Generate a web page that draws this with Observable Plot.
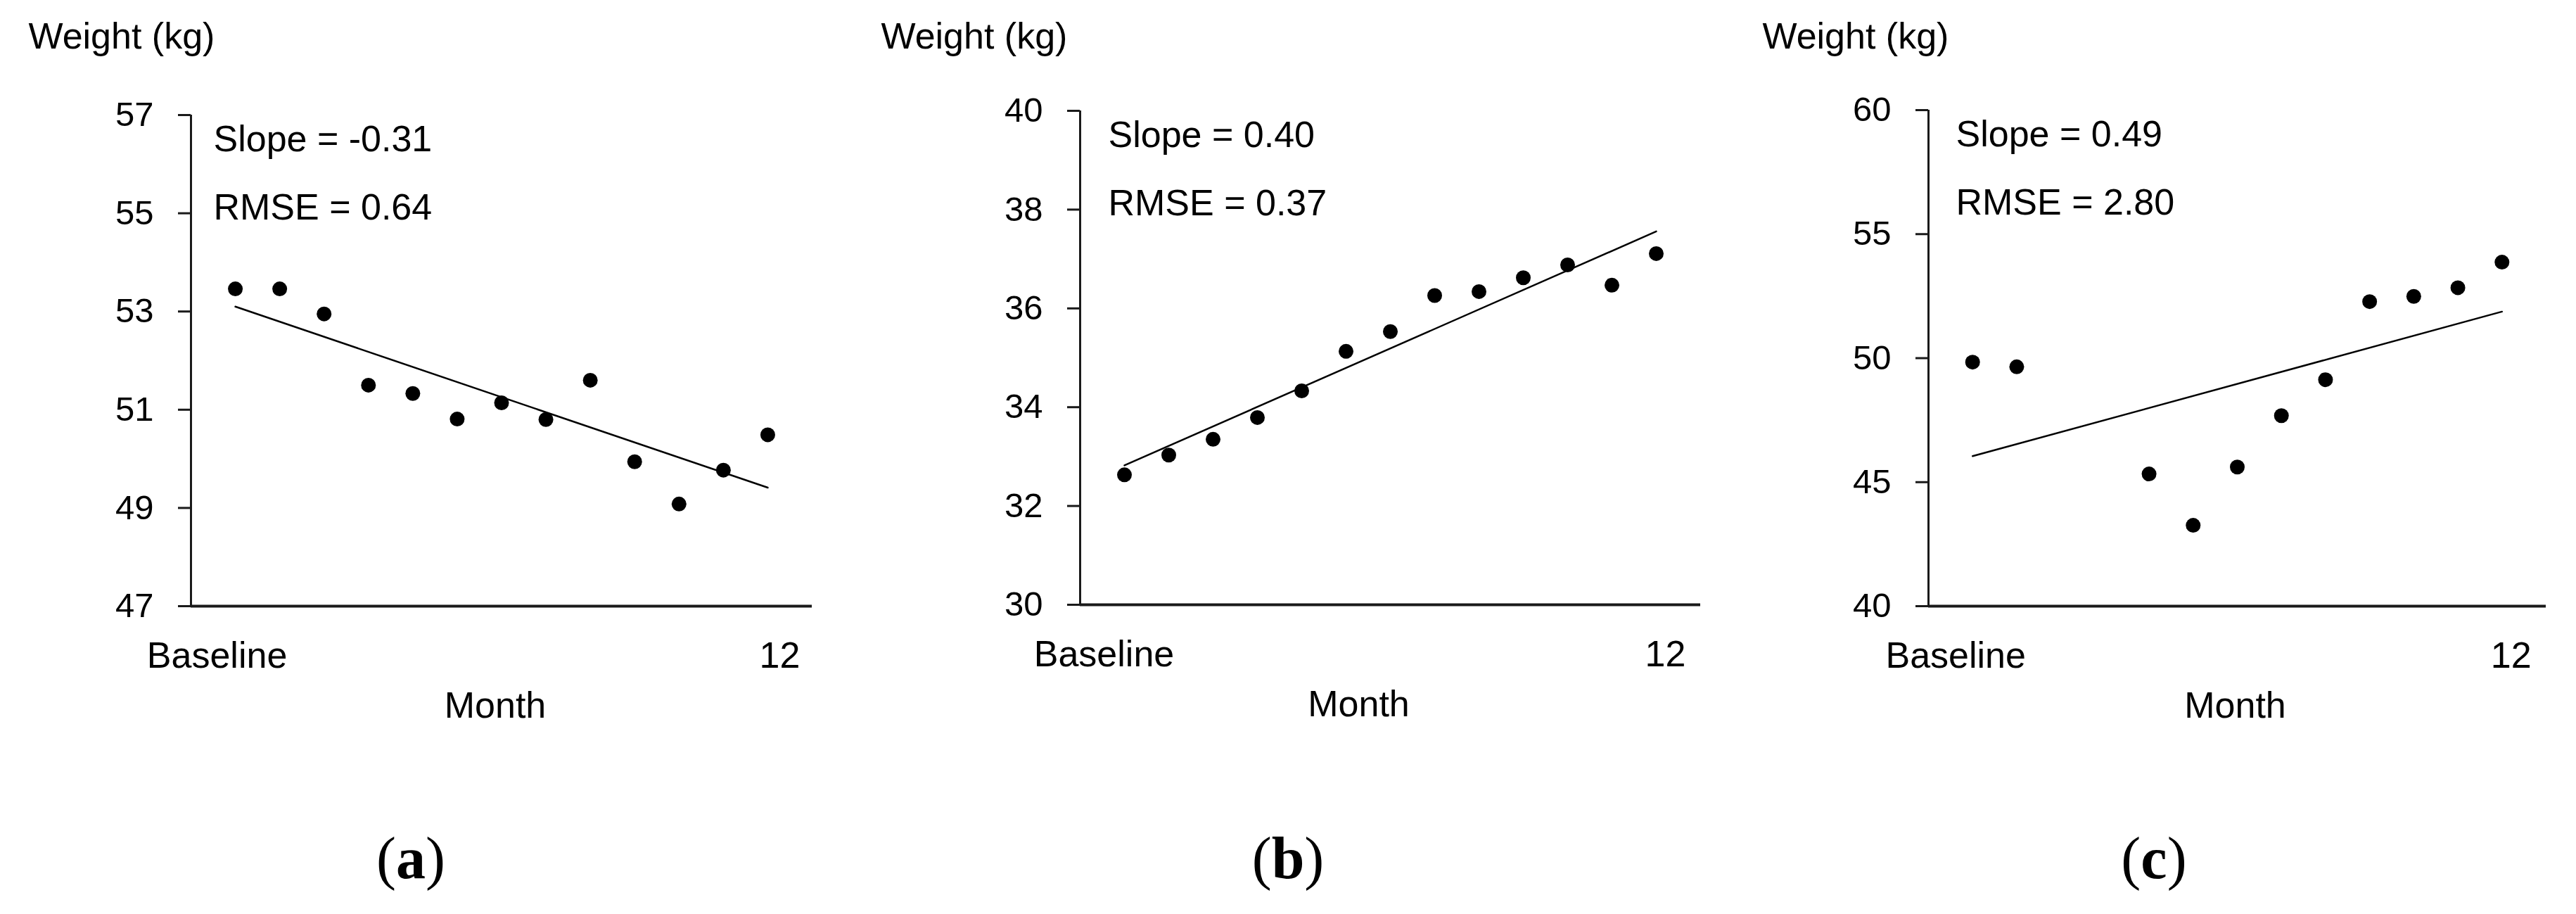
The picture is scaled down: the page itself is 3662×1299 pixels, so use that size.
<!DOCTYPE html>
<html>
<head>
<meta charset="utf-8">
<script src="https://cdn.jsdelivr.net/npm/d3@7"></script>
<script src="https://cdn.jsdelivr.net/npm/@observablehq/plot@0.6"></script>
<style>
  html, body { margin: 0; padding: 0; background: #fff; }
  #fig { position: relative; width: 3662px; height: 1299px; background: #fff; overflow: hidden; }
  .panel { position: absolute; top: 0; }
  .cap { position: absolute; top: 1178px; font-family: "Liberation Serif", "Times New Roman", serif; font-size: 84px; line-height: 1; transform: translateX(-50%); color: #000; white-space: nowrap; }
</style>
</head>
<body>
<div id="fig"></div>
<script>
// ---- data ----
const monthsA = [0, 1, 2, 3, 4, 5, 6, 7, 8, 9, 10, 11, 12];
const weightsA = [53.46, 53.46, 52.95, 51.50, 51.33, 50.81, 51.14, 50.80, 51.60, 49.94, 49.08, 49.77, 50.49];
const yTicksA = [47, 49, 51, 53, 55, 57];

const monthsB = [0, 1, 2, 3, 4, 5, 6, 7, 8, 9, 10, 11, 12];
const weightsB = [32.63, 33.03, 33.35, 33.79, 34.33, 35.13, 35.53, 36.26, 36.34, 36.62, 36.88, 36.47, 37.11];
const yTicksB = [30, 32, 34, 36, 38, 40];

const monthsC = [0, 1, 4, 5, 6, 7, 8, 9, 10, 11, 12];
const weightsC = [49.84, 49.65, 45.33, 43.26, 45.61, 47.68, 49.13, 52.28, 52.49, 52.84, 53.87];
const yTicksC = [40, 45, 50, 55, 60];

const xTickValues = [0, 12];
const xTickLabels = ["Baseline", "12"];
const xDomain = [-1, 13];

const statsA = ["Slope = -0.31", "RMSE = 0.64"];
const statsB = ["Slope = 0.40", "RMSE = 0.37"];
const statsC = ["Slope = 0.49", "RMSE = 2.80"];

const yLabel = "Weight (kg)";
const xLabel = "Month";
const panelLetters = ["a", "b", "c"];

// ---- layout (pixels) ----
const layouts = [
  {left: 0,    width: 1220, ml: 271, mr: 66, mt: 163, mb: 438, titleDx: -231, statDx: 32, monthDx: -9,  baseDx: -26, endDx: 17, cap: 584},
  {left: 1220, width: 1220, ml: 315, mr: 23, mt: 157, mb: 440, titleDx: -283, statDx: 40, monthDx: -45, baseDx: -29, endDx: 13, cap: 1831},
  {left: 2440, width: 1222, ml: 301, mr: 43, mt: 156, mb: 438, titleDx: -236, statDx: 39, monthDx: -3,  baseDx: -24, endDx: 13, cap: 3062}
];

const panels = [
  {months: monthsA, weights: weightsA, yTicks: yTicksA, stats: statsA},
  {months: monthsB, weights: weightsB, yTicks: yTicksB, stats: statsB},
  {months: monthsC, weights: weightsC, yTicks: yTicksC, stats: statsC}
];

const FONT = "'Liberation Sans', Arial, Helvetica, sans-serif";
const AXIS = "#1a1a1a";
const TXT = 52;
const fig = document.getElementById("fig");

panels.forEach((p, i) => {
  const L = layouts[i];
  const data = p.months.map((m, k) => ({month: m, weight: p.weights[k]}));
  const yMin = p.yTicks[0], yMax = p.yTicks[p.yTicks.length - 1];
  const label = d => xTickLabels[xTickValues.indexOf(d)];
  const chart = Plot.plot({
    width: L.width,
    height: 1299,
    marginLeft: L.ml,
    marginRight: L.mr,
    marginTop: L.mt,
    marginBottom: L.mb,
    x: {domain: xDomain},
    y: {domain: [yMin, yMax]},
    style: {fontFamily: FONT, fontSize: "49px", color: "#000", background: "transparent", overflow: "visible"},
    marks: [
      Plot.axisY({ticks: p.yTicks, tickSize: 18, tickPadding: 35, tickFormat: d => String(d), label: null, stroke: AXIS, strokeWidth: 3, fontSize: 49, fill: "#000"}),
      Plot.axisX({ticks: [xTickValues[0]], tickFormat: label, tickSize: 0, tickPadding: 51, label: null, dx: L.baseDx, fontSize: TXT, fill: "#000"}),
      Plot.axisX({ticks: [xTickValues[1]], tickFormat: label, tickSize: 0, tickPadding: 51, label: null, dx: L.endDx, fontSize: TXT, fill: "#000"}),
      Plot.ruleX([xDomain[0]], {stroke: AXIS, strokeWidth: 3}),
      Plot.ruleY([yMin], {stroke: AXIS, strokeWidth: 4}),
      Plot.linearRegressionY(data, {x: "month", y: "weight", ci: 0, stroke: "#000", strokeWidth: 2.5}),
      Plot.dot(data, {x: "month", y: "weight", r: 10.5, fill: "#000", stroke: "none"}),
      Plot.text([p.stats[0]], {text: d => d, frameAnchor: "top-left", textAnchor: "start", lineAnchor: "bottom", dx: L.statDx, dy: 51, fontSize: TXT, fill: "#000"}),
      Plot.text([p.stats[1]], {text: d => d, frameAnchor: "top-left", textAnchor: "start", lineAnchor: "bottom", dx: L.statDx, dy: 148, fontSize: TXT, fill: "#000"}),
      Plot.text([yLabel], {text: d => d, frameAnchor: "top-left", textAnchor: "start", lineAnchor: "bottom", dx: L.titleDx, dy: 68 - L.mt, fontSize: TXT, fill: "#000"}),
      Plot.text([xLabel], {text: d => d, frameAnchor: "bottom", textAnchor: "middle", lineAnchor: "bottom", dx: L.monthDx, dy: 158, fontSize: TXT, fill: "#000"})
    ]
  });
  chart.classList.add("panel");
  chart.style.left = L.left + "px";
  chart.style.position = "absolute";
  chart.style.top = "0px";
  fig.appendChild(chart);

  const cap = document.createElement("div");
  cap.className = "cap";
  cap.style.left = L.cap + "px";
  cap.innerHTML = "(<b>" + panelLetters[i] + "</b>)";
  fig.appendChild(cap);
});
</script>
</body>
</html>
